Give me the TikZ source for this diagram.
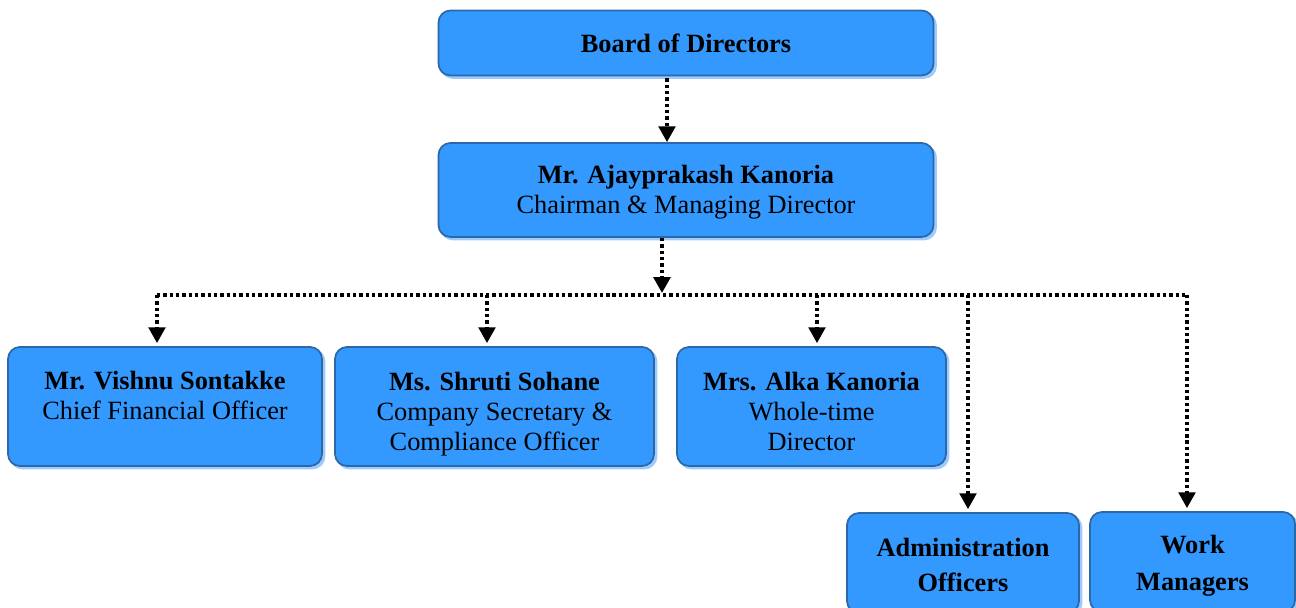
\documentclass[tikz,border=0pt]{standalone}
\usepackage{fontspec}
\setmainfont{Liberation Serif}
\usetikzlibrary{arrows.meta}

\definecolor{BoxBlue}{HTML}{3399FF}
\definecolor{EdgeBlue}{HTML}{2D67A6}
\definecolor{GlowBlue}{HTML}{9CCBFF}

\newcommand{\toppad}[1]{\rule{0pt}{#1}}

\tikzset{
    orgbox/.style={draw=EdgeBlue, line width=1pt, fill=BoxBlue, rounded corners=0.24cm,
        align=center, inner sep=0pt,
        font=\fontsize{15}{17}\selectfont,
        preaction={fill=GlowBlue, draw=GlowBlue, line width=1pt, transform canvas={xshift=0.05cm, yshift=-0.05cm}}},
    flow/.style={line width=1.9pt, dash pattern=on 1.9pt off 1.7pt,
        -{Triangle[width=9.5pt,length=9pt]}},
    bus/.style={line width=1.9pt, dash pattern=on 1.9pt off 1.7pt}
}

\begin{document}
\begin{tikzpicture}
    \useasboundingbox (0,0) rectangle (25.92,12.16);

    % people
    \node[orgbox, minimum width=9.9cm, minimum height=1.3cm] (board) at (13.72,11.30)
        {\textbf{Board of Directors}};
    \node[orgbox, minimum width=9.9cm, minimum height=1.88cm] (chair) at (13.72,8.36)
        {\toppad{13pt}\textbf{Mr. Ajayprakash Kanoria}\\Chairman \& Managing Director};
    \node[orgbox, minimum width=6.28cm, minimum height=2.38cm] (cfo) at (3.30,4.03)
        {\toppad{19.5pt}\textbf{Mr. Vishnu Sontakke}\\Chief Financial Officer\\\strut};
    \node[orgbox, minimum width=6.38cm, minimum height=2.38cm] (cs) at (9.89,4.03)
        {\toppad{19.5pt}\textbf{Ms. Shruti Sohane}\\Company Secretary \&\\Compliance Officer};
    \node[orgbox, minimum width=5.38cm, minimum height=2.38cm] (wtd) at (16.23,4.03)
        {\toppad{16pt}\textbf{Mrs. Alka Kanoria}\\Whole-time\\Director};
    \node[orgbox, minimum width=4.64cm, minimum height=2.0cm,
          font=\fontsize{15}{20}\selectfont\bfseries] (admin) at (19.26,0.90)
        {\toppad{13pt}Administration\\Officers};
    \node[orgbox, minimum width=4.10cm, minimum height=2.0cm,
          font=\fontsize{15}{21}\selectfont\bfseries] (works) at (23.85,0.92)
        {\toppad{15pt}Work\\Managers};

    % reporting lines
    \coordinate (trunk) at (13.34,0);
    \draw[flow, shorten <=0.04cm] (board.south -| trunk) -- (chair.north -| trunk);
    \coordinate (hub) at (13.24,6.30);
    \draw[flow] (chair.south -| hub) -- (hub);
    \coordinate (barL) at (3.14,6.26);
    \coordinate (barR) at (23.74,6.26);
    \draw[bus] (barL) -- (barR);
    \foreach \who/\x in {cfo/3.14, cs/9.74, wtd/16.34, admin/19.36, works/23.74}{
        \coordinate (drop) at (\x,6.26);
        \draw[flow, shorten >=0.06cm] (drop) -- (\who.north -| drop);
    }
\end{tikzpicture}
\end{document}
